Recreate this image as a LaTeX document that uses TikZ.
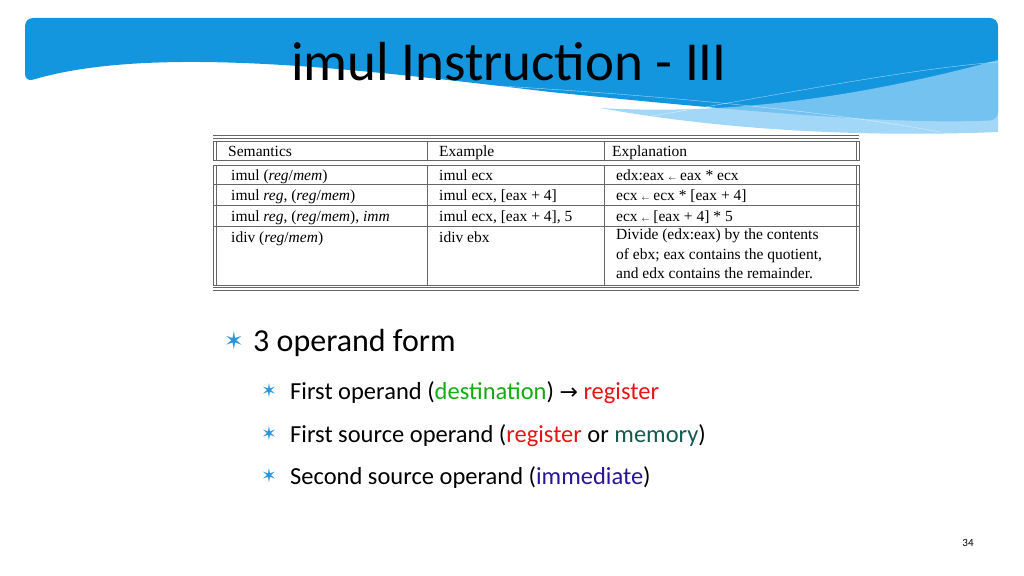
\documentclass[tikz,border=0pt]{standalone}
\usepackage{fontspec}
\setmainfont{Carlito}
\newfontfamily\tabfont{Liberation Serif}
\newfontfamily\symfont{DejaVu Sans}
\usepackage{tikz}
\usetikzlibrary{positioning}
\definecolor{skyblue}{RGB}{20,150,222}
\definecolor{paleblue}{RGB}{140,205,245}
\definecolor{destgreen}{RGB}{20,170,20}
\definecolor{regred}{RGB}{230,20,20}
\definecolor{memteal}{RGB}{20,90,80}
\definecolor{immblue}{RGB}{40,20,150}
\definecolor{bulletblue}{RGB}{40,150,220}
\tikzstyle{cell} = [anchor=base west, inner sep=0pt, font=\tabfont\fontsize{15.5}{19.5}\selectfont]
\tikzstyle{rule} = [draw=black!60, line width=0.8pt]
\tikzstyle{point} = [anchor=west, inner sep=0pt, font=\fontsize{32}{36}\selectfont]
\tikzstyle{subpoint} = [anchor=west, inner sep=0pt, font=\fontsize{24.5}{28}\selectfont]
\tikzstyle{star} = [anchor=center, inner sep=0pt, text=bulletblue]
\begin{document}
\begin{tikzpicture}[x=1pt,y=-1pt]
	\useasboundingbox (0,0) rectangle (1024,575);
	
	% header band
	\fill[skyblue, rounded corners=8pt] (25,18) -- (998,18) -- (998,120) .. controls (900,125) and (750,112) .. (550,92) .. controls (350,68) and (150,45) .. (25,82) -- cycle;
	\fill[paleblue, opacity=0.8] (998,60) .. controls (850,100) and (720,115) .. (600,108) .. controls (750,135) and (900,136) .. (998,132) -- cycle;
	\draw[white, opacity=0.6] (640,118) .. controls (780,95) and (900,70) .. (998,62);
	\draw[white, opacity=0.6] (500,86) .. controls (700,98) and (850,115) .. (940,132);
	\node (title) at (509,62) {\fontsize{55}{60}\selectfont imul Instruction - III};
	
	% table rules
	\draw[rule] (213,135) -- (859,135) (213,138) -- (859,138);
	\draw[rule] (213,287) -- (859,287) (213,290) -- (859,290);
	\draw[rule] (213,141) rectangle (859,160) (216,141) -- (216,160) (856,141) -- (856,160);
	\draw[rule] (213,165) rectangle (859,285) (216,165) -- (216,285) (856,165) -- (856,285);
	\draw[rule] (427,141) -- (427,160) (604,141) -- (604,160);
	\draw[rule] (427,165) -- (427,285) (604,165) -- (604,285);
	\foreach \y in {184,205,226} \draw[rule] (213,\y) -- (859,\y);
	
	% table text
	\node (semantics) [cell] at (228,156) {Semantics};
	\node (example) [cell] at (439,156) {Example};
	\node (explain) [cell] at (612,156) {Explanation};
	\node (semA) [cell] at (231,180) {imul (\textit{reg}/\textit{mem})};
	\node (semB) [cell] at (231,200) {imul \textit{reg}, (\textit{reg}/\textit{mem})};
	\node (semC) [cell] at (231,221) {imul \textit{reg}, (\textit{reg}/\textit{mem}), \textit{imm}};
	\node (semD) [cell] at (231,242) {idiv (\textit{reg}/\textit{mem})};
	\node (exA) [cell] at (439,180) {imul ecx};
	\node (exB) [cell] at (439,200) {imul ecx, [eax + 4]};
	\node (exC) [cell] at (439,221) {imul ecx, [eax + 4], 5};
	\node (exD) [cell] at (439,242) {idiv ebx};
	\node (expA) [cell] at (616,180) {edx:eax {\scriptsize$\leftarrow$} eax * ecx};
	\node (expB) [cell] at (616,200) {ecx {\scriptsize$\leftarrow$} ecx * [eax + 4]};
	\node (expC) [cell] at (616,221) {ecx {\scriptsize$\leftarrow$} [eax + 4] * 5};
	\node (expD) [cell, align=left, anchor=north west] at (616,229) {Divide (edx:eax) by the contents\\of ebx; eax contains the quotient,\\and edx contains the remainder.};
	
	% bullets
	\node (starA) [star, font=\symfont\fontsize{24}{24}\selectfont] at (234,341) {✶};
	\node (form) [point] at (253,343) {3 operand form};
	\node (starB) [star, font=\symfont\fontsize{19}{19}\selectfont] at (269,391) {✶};
	\node (first) [subpoint] at (290,393) {First operand (\textcolor{destgreen}{destination}) {\symfont\fontsize{22}{22}\selectfont →} \textcolor{regred}{register}};
	\node (starC) [star, font=\symfont\fontsize{19}{19}\selectfont] at (269,434) {✶};
	\node (source) [subpoint] at (290,436) {First source operand (\textcolor{regred}{register} or \textcolor{memteal}{memory})};
	\node (starD) [star, font=\symfont\fontsize{19}{19}\selectfont] at (269,476) {✶};
	\node (second) [subpoint] at (290,478) {Second source operand (\textcolor{immblue}{immediate})};
	\node (page) at (968,543) {\fontsize{11}{11}\selectfont 34};
\end{tikzpicture}
\end{document}
